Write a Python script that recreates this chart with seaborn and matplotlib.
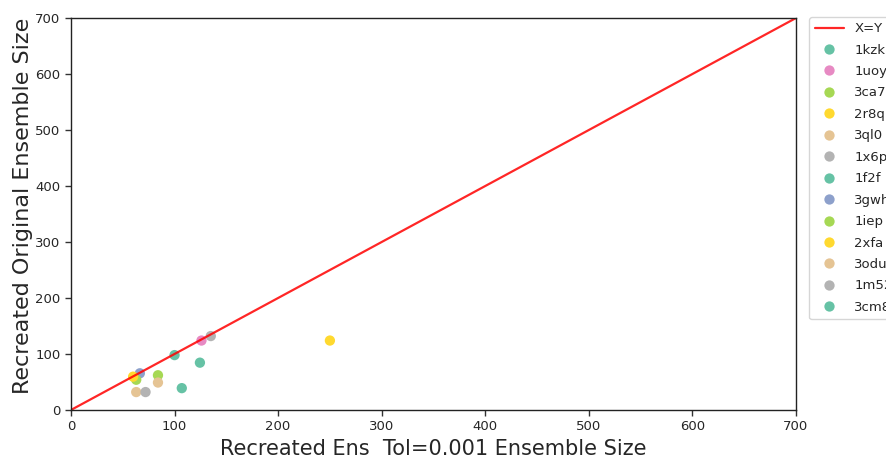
import matplotlib
matplotlib.use("Agg")
import matplotlib.pyplot as plt
import seaborn as sns
import pandas as pd

proteins = ["1kzk", "1uoy", "3ca7", "2r8q", "3ql0", "1x6p", "1f2f",
            "3gwh", "1iep", "2xfa", "3odu", "1m52", "3cm8"]
ens_tol = [100, 126, 84, 250, 84, 135, 124.5, 66.5, 63, 60, 63, 72, 107]
orig_size = [98, 124, 62, 124, 49, 132, 84.5, 65.5, 54, 59.5, 32, 32, 39]
colors = ["#66c2a5", "#e78ac3", "#a6d854", "#ffd92f", "#e5c494", "#b3b3b3",
          "#66c2a5", "#8da0cb", "#a6d854", "#ffd92f", "#e5c494", "#b3b3b3",
          "#66c2a5"]

df = pd.DataFrame({"protein": proteins, "x": ens_tol, "y": orig_size})

sns.set_style("white")
fig = plt.figure(figsize=(8.86, 4.62), dpi=100)
ax = fig.add_axes([0.0801, 0.1126, 0.8183, 0.8484])

ax.plot([0, 700], [0, 700], color="red", lw=1.6, alpha=0.85, label="X=Y")
sns.scatterplot(data=df, x="x", y="y", hue="protein", hue_order=proteins,
                palette=dict(zip(proteins, colors)), s=55, edgecolor="none",
                ax=ax)

ax.set_xlim(0, 700)
ax.set_ylim(0, 700)
ax.set_xlabel("Recreated Ens  Tol=0.001 Ensemble Size", fontsize=15)
ax.set_ylabel("Recreated Original Ensemble Size", fontsize=16)
ax.yaxis.set_label_coords(-0.053, 0.52)
ax.tick_params(axis="both", labelsize=9.5, length=4, width=1, color="#333333",
               bottom=True, left=True)
for sp in ax.spines.values():
    sp.set_color("#222222")
    sp.set_linewidth(1)

ax.legend(loc="upper left", bbox_to_anchor=(1.013, 1.013), fontsize=9.5,
          frameon=True, borderaxespad=0.3, handlelength=2.2,
          labelspacing=0.64)

fig.savefig("out.png", dpi=100)
